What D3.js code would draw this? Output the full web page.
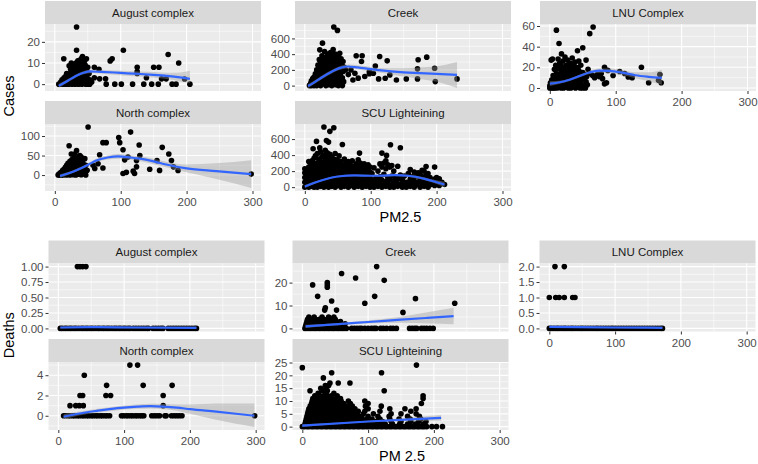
<!DOCTYPE html>
<html><head><meta charset="utf-8">
<script src="https://cdn.jsdelivr.net/npm/d3@7"></script>
<style>body{margin:0;background:#fff}svg{display:block}</style>
</head><body>
<svg id="c" width="758" height="464"></svg>
<script>
// ---------------- DATA ----------------
const xTickLabels = ['0','100','200','300'];

// Cases ~ PM2.5  (pairs [pm, cases])
const augustCases = [[6,0],[8,0],[9,1],[10,0],[11,2],[12,1],[13,0],[13.6,12],[14,3],[15,1],[16,2],[17,0],[17,4],[18,5],[19,1],[20,3],[21,0],[21.7,8.7],[22,2],[23,5],[24,1],[24,7],[25,10],[25,3],[26,0],[26,6],[27,2],[28,4],[28,8],[29,1],[30,9],[30,3],[31,6],[31,0],[32,2],[32,10],[33,27],[33,16],[33,5],[34,1],[34,8],[35,3],[35,11],[36,7],[36,0],[37,4],[37,11],[38,2],[38,9],[39,6],[39,1],[40,12],[40,4],[41,8],[41,0],[42,13],[42,3],[43,6],[43,10],[44,1],[44,5],[45,11],[45,7],[46,2],[46,9],[47,4],[47,0],[48,6],[48,12],[49,3],[50,8],[50,1],[51,0],[52,5],[53,2],[53,0],[56,1],[60,8],[67,7],[60,3],[68,2.5],[77,2.5],[78,0],[84,11],[87,12],[91,0],[101,0],[104,16],[118,0],[125,5],[125,6],[125,8],[135,0],[139,3],[147,0],[150,8],[157,0],[158,8],[162,2.5],[169,2.5],[172,14],[178,0],[184,0],[188,10],[197,2.4],[205,0]];
const augustCasesFit = [[6,-0.8,-1.8,0.2],[15,0.8,0,1.6],[25,2.6,1.9,3.3],[35,4.3,3.6,5],[45,5.5,4.8,6.3],[53,6,5.2,6.8],[70,5.8,4.9,6.7],[90,5.5,4.5,6.5],[110,5.1,4,6.2],[130,4.8,3.6,6],[150,4.4,3.1,5.7],[170,3.9,2.4,5.4],[190,3.2,1.3,5.5],[205,2.5,0.5,6.3]];

const creekCases = [[7,0],[8,10],[9,30],[10,0],[10,60],[11,20],[12,90],[12,5],[13,40],[14,110],[14,0],[15,70],[15,25],[16,150],[16,5],[17,100],[17,45],[18,200],[18,0],[19,130],[19,60],[20,260],[20,15],[21,180],[21,90],[22,330],[22,40],[22.7,455],[23,230],[23,120],[24,0],[24,300],[25,170],[25,70],[26,380],[26,20],[26.8,540],[27,250],[27,140],[28,100],[28,320],[29,30],[29,200],[30,434],[30,280],[31,60],[31,160],[32,360],[32,0],[33,230],[33,110],[34,300],[34,40],[35,190],[35,400],[36,80],[36,260],[37,10],[37,340],[38,150],[38,220],[39,50],[39,420],[40,290],[40,120],[41,0],[41,380],[42,180],[42,70],[43,460],[43,250],[44,745],[44,30],[44,330],[45,140],[45,200],[46,400],[46,90],[47,270],[47,10],[48,350],[48,170],[49,60],[49,230],[49.5,702],[50,310],[50,120],[51,0],[51,380],[52,200],[52,40],[53,412],[53,280],[54,150],[54,80],[55,20],[55,340],[56,250],[57,100],[57,0],[58,306],[58,243],[58,180],[59,50],[60,230],[61.6,200],[66,140],[70,200],[73,72],[76,157],[78,380],[81,95],[86,306],[87,380],[91,115],[98,150],[98,178],[104,157],[107,250],[112,85],[113.6,370],[122,94],[125,315],[129,136],[139,72],[154,85],[171,213],[171,85],[172,328],[185,362],[197,221],[198,51],[231,85]];
const creekCasesFit = [[5,-5,-30,20],[15,45,22,68],[25,100,78,122],[35,150,128,172],[45,195,172,218],[55,228,204,252],[66,243,218,268],[80,232,206,258],[100,210,182,238],[120,190,158,222],[150,168,115,221],[175,158,85,231],[200,148,50,246],[231,136,-30,300]];

const lnuCases = [[0,0],[0,2],[1,5],[2,0],[2,27],[3,1],[3,8],[4,28],[4,3],[5,0],[5,12],[6,2],[6,6],[7,0],[7,18],[8,4],[8,9],[9,1],[9,22],[10,56],[10,6],[10,14],[11,0],[11,3],[12,10],[12.6,28],[13,5],[13,19],[14,43],[14,1],[15,8],[15,24],[16,3],[16,13],[17,0],[17,17],[17.7,33],[18,6],[18,21],[19,2],[19,11],[20,26],[20,8],[21,0],[21,15],[22,4],[22,19],[23,10],[23,30],[24,1],[24,7],[25,13],[25,22],[26,3],[26,17],[27,9],[27,27],[28,0],[28,12],[29,5],[29,20],[30,15],[30,2],[31,24],[31,8],[32,11],[32,0],[33,18],[33,4],[34,29],[34,9],[35,14],[35,1],[36,22],[36,6],[37,12],[37,3],[38,17],[38,25],[39,7],[39,0],[40,10],[40,20],[41,4],[41,14],[42,36],[42,8],[43,18],[43,1],[44,12],[44,26],[45,5],[45,16],[46,9],[46,0],[47,13],[47,22],[48,3],[48,7],[49,11],[50,39],[50,15],[50,0],[51,2],[52,9],[53,13],[54,0],[55,6],[55,27],[56,11],[57,3],[58,18],[60.6,52.6],[62,14],[65,12],[65.7,59],[68,10],[72,13],[75,11],[78,14],[80,9],[83,20],[83,4],[86,5],[88,17],[96,12],[106,16],[113.6,14],[119,10.6],[125,10],[139,20],[150,5],[165,7.4],[167,13],[169,5]];
const lnuCasesFit = [[0,4.2,1.9,6.5],[15,5.5,4,7],[30,8,6.8,9.2],[45,11.5,10.2,12.8],[60,15,13.5,16.5],[75,16.8,14.8,18.8],[90,16.5,14.2,18.8],[110,14.8,12.2,17.4],[130,12.3,9.5,15.1],[150,10.8,6.5,15.1],[170,9.7,3.2,17.7]];

const northCases = [[5,0],[6,2],[7,0],[8,5],[9,1],[10,0],[10,8],[11,3],[12,12],[13,0],[13,6],[14,15],[15,2],[15,9],[16,20],[17,4],[17,11],[18,0],[18,25],[19,7],[19,16],[20,30],[20,2],[21,12],[21.7,75],[22,5],[22,20],[23,35],[23,0],[24,10],[24,26],[25,54],[25,3],[26,18],[26,40],[27,8],[27,30],[28,1],[28,22],[29,14],[29,45],[30,54],[30,5],[31,28],[31,11],[32,36],[32,0],[33,62.5],[33,18],[34,7],[34,42],[35,24],[35,2],[36,32],[36,13],[37,48],[37,4],[38,50],[38,20],[39,9],[39,35],[40,46],[40,1],[41,27],[41,15],[42,6],[42,38],[43,29],[43,11],[44,3],[44,22],[45.5,42],[45,16],[46,8],[47,25],[47,0],[48,12],[49,12.5],[50.5,123],[58,25],[60.6,17],[65.6,29],[68,52],[73,18],[73,83],[78,83],[97,96],[98.5,83],[103.5,65],[103.5,4],[106,39],[108.6,7],[111,46],[115,110],[119,10],[121,4],[124,37],[124,21],[128,77],[129,50],[144,15],[155,37],[159,12],[163,71],[173,54],[177,37],[180,21],[187,12],[298,2.5]];
const northCasesFit = [[8,-2.5,-7,2],[20,4,0,8],[33,12.5,9,16],[50,26,22,30],[63,37.5,33,42],[80,45,40,50],[96,48,42,54],[115,45,39,51],[129,42,36,48],[150,35,28,42],[169,27,20,34],[200,17,7,27],[245,10,-10,30],[298,2.5,-33,38]];

// SCU cases, grouped by PM2.5 value: [pm, [cases...]]
const scuCasesCols = [[0,[0,60,120,180,229]],[4,[20,90,150,210]],[6,[0,50,110,170,250,320]],[9,[30,80,140,200,270]],[11,[10,60,120,190,240,330]],[12.6,[480]],[14,[0,40,100,160,220,290,360]],[16,[20,80,140,200,260,390]],[17.7,[571]],[19,[0,50,110,170,230,300,420]],[21,[30,90,150,210,280,350]],[22.7,[490]],[24,[10,70,130,190,250,320,440]],[26,[40,100,160,220,290,380]],[29,[0,60,120,180,240,310,400,750]],[31,[20,80,140,200,270,340,460]],[32.8,[583]],[34,[50,110,170,230,300,370,430]],[36,[0,80,140,260,562]],[38,[30,90,150,210,280,350,410,696]],[41,[10,60,120,190,250,320,380]],[44,[40,100,160,220,290,350,742]],[46,[0,70,130,200,260,330,420]],[49,[20,80,140,210,270,340]],[52,[50,110,170,240,300,390]],[55,[0,60,120,180,250,320]],[57,[30,90,150,210,280,533]],[60,[10,70,130,200,260,350]],[63,[40,100,160,230,300]],[66,[0,60,120,190,250,320]],[69,[20,80,140,210,280]],[72,[50,110,170,240,330]],[75,[0,60,130,190,260]],[78,[30,90,150,220,290]],[81,[10,70,130,200,270,340]],[83,[425]],[84,[40,100,170,240,300]],[87,[0,60,120,190,260]],[90,[30,90,150,220,290]],[93,[10,70,130,200,250]],[96,[40,100,160,230,280]],[99,[0,60,120,190,250]],[102,[30,90,170]],[105,[0,60,240]],[108,[40,120]],[111,[10,80,200]],[114,[50,130,290]],[117,[0,90,250,425]],[120,[30,160,300]],[123,[10,70,230,330]],[124,[396]],[126,[40,120,280]],[129,[0,90,250]],[130,[529]],[132,[30,140,270]],[135,[0,80,200]],[138,[50,130]],[141,[10,100,260]],[145,[40,150,492]],[148,[0,90]],[151,[30,140]],[154,[0,60]],[157,[40,170]],[160,[10,100,220]],[163,[50,130]],[166,[0,80,190]],[169,[30,140]],[172,[60,180]],[175,[0,100,160]],[178,[40,130,210]],[181,[10,80,200]],[184,[50,150,258]],[187,[0,90,170]],[190,[30,120]],[193,[60]],[197,[20,100,250]],[200,[50,120]],[204,[20,104]],[208,[60]],[212,[33]]];
const scuCasesFit = [[0,8,-10,26],[25,83,72,94],[50,133,123,143],[76,146,137,155],[101,142,132,152],[120,145,134,156],[136,150,138,162],[157,142,128,156],[182,104,86,122],[200,62,38,86],[212,33,0,66]];

// Deaths ~ PM 2.5, grouped by death count: [deaths, [pm...]]
const augustDeathsRows = [[0,[3,6,10,13,17,20,24,27,31,35,38,42,45,49,52,56,60,63,67,70,74,77,81,85,88,92,95,99,102,106,109,114,118,122,126,130,134,137,144,148,152,156,159,167,171,175,179,183,187,191,195,199,203,207,210]],[1,[29,33,37,42]]];
const augustDeathsFit = [[3,0.015,0,0.03],[60,0.02,0.005,0.035],[120,0.015,0,0.03],[210,0.01,0,0.03]];

const creekDeathsRows = [[0,[4,7,11,14,18,21,25,28,32,35,39,42,46,49,53,56,60,63,67,75,79,83,87,90,95,100,105,109,112,119,123,128,134,138,143,163,167,171,174,181,185,189,194,199]],[1,[5,9,13,17,21,25,29,33,37,41,45,49,53,57,62]],[2,[6,10,14,18,22,26,31,34,38,42,46,50,54,65]],[3,[7,12,16,20,24,28,32,36,40,44,48,52,58]],[4,[8,14,20,26,32,38,44,50]],[5,[10,18,30,40,48]],[7,[153]],[8,[34,52]],[9,[35]],[11,[95,231.7]],[12,[44.6]],[13,[172]],[14,[23.3,110]],[18,[38]],[19,[15.7,38]],[20,[38]],[21,[124.5]],[22,[81]],[24,[59.7]],[27,[113]]];
const creekDeathsFit = [[5,0.9,0.2,1.6],[60,2.0,1.5,2.5],[100,2.8,2.1,3.5],[150,3.8,2.5,5.1],[190,4.6,2.1,7.1],[230,5.4,1.8,9]];

const lnuDeathsRows = [[0,[0,3,7,11,14,18,22,25,29,33,36,40,44,48,51,55,59,63,67,71,74,78,82,86,90,94,97,101,105,109,113,117,121,125,129,133,137,141,145,149,153,157,161,165,169,172]],[1,[0,9.7,15,22.8,35.5,39]],[2,[8.6,22.8]]];
const lnuDeathsFit = [[0,0.05,0.01,0.09],[40,0.04,0.01,0.07],[100,0.03,0,0.06],[172,0.02,0,0.06]];

const northDeathsRows = [[0,[8,11,15,18,22,25,29,32,36,39,43,46,50,53,57,60,64,67,71,74,78,96,99,103,106,110,113,117,120,124,127,130,142,146,150,154,162,164,172,176,180,184,188,298.5]],[1,[17.8,26.5,32,38,159.4]],[2,[33,37,72.4,79.5,159.4]],[3,[73.4,129,173]],[4,[39.5]],[5,[108.8,120.5]]];
const northDeathsFit = [[8,-0.1,-0.35,0.15],[30,0.2,0,0.4],[60,0.5,0.3,0.7],[90,0.75,0.55,0.95],[120,0.9,0.68,1.12],[140,0.95,0.72,1.18],[160,0.9,0.65,1.15],[180,0.8,0.5,1.1],[200,0.65,0.2,1.1],[240,0.4,-0.4,1.2],[270,0.2,-0.8,1.2],[298,0,-1.1,1.2]];

const scuDeathsRows = [[0,[0,3,7,10,14,17,21,24,28,31,35,38,42,45,49,52,56,59,63,66,70,73,77,80,84,87,91,94,98,101,105,108,112,115,119,122,126,129,133,136,140,143,147,150,154,157,161,164,168,171,175,178,182,185,189,197,204,213]],[1,[4,8,11,15,19,22,26,30,33,37,41,44,48,52,55,59,63,66,70,74,77,81,85,88,92,96,99,103,110,118,126,137,148,160,172,184]],[2,[5,9,13,16,20,24,27,31,35,38,42,46,49,53,57,60,64,68,71,75,79,82,86,90,93,97,104,112,122,135,150,165,177,188]],[3,[6,10,14,17,21,25,28,32,36,39,43,47,50,54,58,61,65,69,72,76,80,83,87,91,98,106,118,133,147,164,180]],[4,[7,11,15,18,22,26,29,33,37,40,44,48,51,55,59,62,66,70,73,77,81,84,90,100,115,132,160,178]],[5,[8,12,16,19,23,27,30,34,38,41,45,49,52,56,60,63,67,71,74,78,84,93,108,135,150,173]],[6,[9,13,17,20,24,28,31,35,39,42,46,50,53,57,61,64,68,72,77,85,95,118,165]],[7,[10,14,18,21,25,29,32,36,40,43,47,51,54,58,62,66,71,80,100,133,156,173]],[8,[12,16,20,23,27,31,34,38,42,45,49,53,57,62,68,76,96,120]],[9,[14,18,22,26,30,34,37,41,45,48,52,57,63,73,100,181]],[10,[15,19,23,27,31,35,39,43,47,52,59,70,95]],[11,[16,22,28,33,39,45,51,58,183.6]],[12,[19,26,32,38,44,53,183.6]],[13,[24,36,48]],[14,[11.7,30,38,124.5]],[15,[28,36]],[16,[35,40]],[17,[42,54.6,72.4]],[19,[32]],[21,[44.6,120.4]],[23,[0]],[24,[173.5]]];
const scuDeathsFit = [[0,0.4,-0.1,0.9],[100,2,1.7,2.3],[211,3.4,2.3,4.5]];

// tick labels
const augustCasesTicks = ['0','10','20'];
const creekCasesTicks = ['0','200','400','600'];
const lnuCasesTicks = ['0','20','40','60'];
const northCasesTicks = ['0','50','100'];
const scuCasesTicks = ['0','200','400','600'];
const augustDeathsTicks = ['0.00','0.25','0.50','0.75','1.00'];
const creekDeathsTicks = ['0','10','20'];
const lnuDeathsTicks = ['0.0','0.5','1.0','1.5','2.0'];
const northDeathsTicks = ['0','2','4'];
const scuDeathsTicks = ['0','5','10','15','20','25'];

// ---------------- DRAWING ----------------
const flatRows = rows => rows.flatMap(([y, xs]) => xs.map(x => [x, y]));
const flatCols = cols => cols.flatMap(([x, ys]) => ys.map(y => [x, y]));

const svg = d3.select('#c');
const defs = svg.append('defs');
const FONT = '"Liberation Sans", Arial, sans-serif';
let clipId = 0;

function drawChart(spec) {
  const L = spec.layout;
  const allX = spec.panels.flatMap(p => p.pts.map(d => d[0]));
  const [x0, x1] = d3.extent(allX);
  const xp = (x1 - x0) * 0.05;
  const xDom = [x0 - xp, x1 + xp];
  spec.panels.forEach(p => drawPanel(p, L, xDom));
  const cx = (L.cols[0] + L.cols[2] + L.w) / 2;
  svg.append('text').attr('x', cx).attr('y', L.xTitleY).attr('text-anchor', 'middle')
    .attr('font-family', FONT).attr('font-size', 14.5).attr('fill', '#000').text(spec.xTitle);
  const top = L.rows[0], bottom = L.rows[1] + L.stripH + L.panelH;
  svg.append('text').attr('transform', `translate(13.5,${(top + bottom) / 2}) rotate(-90)`)
    .attr('text-anchor', 'middle').attr('font-family', FONT).attr('font-size', 14.5).attr('fill', '#000').text(spec.yTitle);
}

function drawPanel(p, L, xDom) {
  const left = L.cols[p.col], right = left + L.w;
  const stripTop = L.rows[p.row], top = stripTop + L.stripH, bottom = top + L.panelH;
  const x = d3.scaleLinear().domain(xDom).range([left, right]);
  const yv = p.pts.map(d => d[1]).concat(p.fit.flatMap(d => [d[2], d[3]]));
  const [a, b] = d3.extent(yv);
  const yp = (b - a) * 0.05;
  const y = d3.scaleLinear().domain([a - yp, b + yp]).range([bottom, top]);
  const g = svg.append('g');

  g.append('rect').attr('x', left).attr('y', stripTop).attr('width', L.w).attr('height', L.stripH).attr('fill', '#D9D9D9');
  g.append('text').attr('x', (left + right) / 2).attr('y', stripTop + L.stripH / 2).attr('dy', '0.35em')
    .attr('text-anchor', 'middle').attr('font-family', FONT).attr('font-size', 11.5).attr('fill', '#1A1A1A').text(p.title);

  g.append('rect').attr('x', left).attr('y', top).attr('width', L.w).attr('height', L.panelH).attr('fill', '#EBEBEB');

  const yMaj = p.ticks.map(Number);
  const ys = yMaj[1] - yMaj[0];
  const yMin = [yMaj[0] - ys / 2].concat(yMaj.map(v => v + ys / 2)).filter(v => v > y.domain()[0] && v < y.domain()[1]);
  const xMaj = xTickLabels.map(Number);
  const xs = xMaj[1] - xMaj[0];
  const xMin = [xMaj[0] - xs / 2].concat(xMaj.map(v => v + xs / 2)).filter(v => v > xDom[0] && v < xDom[1]);
  const grid = g.append('g').attr('stroke', '#fff');
  grid.selectAll('.ymin').data(yMin).join('line').attr('x1', left).attr('x2', right)
    .attr('y1', d => y(d)).attr('y2', d => y(d)).attr('stroke-width', 0.55);
  grid.selectAll('.xmin').data(xMin).join('line').attr('y1', top).attr('y2', bottom)
    .attr('x1', d => x(d)).attr('x2', d => x(d)).attr('stroke-width', 0.55);
  grid.selectAll('.ymaj').data(yMaj).join('line').attr('x1', left).attr('x2', right)
    .attr('y1', d => y(d)).attr('y2', d => y(d)).attr('stroke-width', 1.1);
  grid.selectAll('.xmaj').data(xMaj).join('line').attr('y1', top).attr('y2', bottom)
    .attr('x1', d => x(d)).attr('x2', d => x(d)).attr('stroke-width', 1.1);

  const id = 'clip' + (clipId++);
  defs.append('clipPath').attr('id', id).append('rect').attr('x', left).attr('y', top).attr('width', L.w).attr('height', L.panelH);
  const mg = g.append('g').attr('clip-path', `url(#${id})`);
  mg.selectAll('circle').data(p.pts).join('circle')
    .attr('cx', d => x(d[0])).attr('cy', d => y(d[1])).attr('r', 2.8).attr('fill', '#000');
  mg.append('path').datum(p.fit)
    .attr('d', d3.area().x(d => x(d[0])).y0(d => y(d[2])).y1(d => y(d[3])).curve(d3.curveMonotoneX))
    .attr('fill', '#999999').attr('fill-opacity', 0.4);
  mg.append('path').datum(p.fit)
    .attr('d', d3.line().x(d => x(d[0])).y(d => y(d[1])).curve(d3.curveMonotoneX))
    .attr('fill', 'none').attr('stroke', '#3366FF').attr('stroke-width', 2.2);

  const ya = g.append('g').attr('transform', `translate(${left},0)`)
    .call(d3.axisLeft(y).tickValues(yMaj).tickFormat((d, i) => p.ticks[i]).tickSize(3).tickPadding(2));
  styleAxis(ya);
  if (p.xAxis) {
    const xa = g.append('g').attr('transform', `translate(0,${bottom})`)
      .call(d3.axisBottom(x).tickValues(xMaj).tickFormat((d, i) => xTickLabels[i]).tickSize(3).tickPadding(4));
    styleAxis(xa);
  }
}

function styleAxis(sel) {
  sel.select('.domain').remove();
  sel.selectAll('.tick line').attr('stroke', '#333333').attr('stroke-width', 1);
  sel.selectAll('.tick text').attr('fill', '#4D4D4D').attr('font-size', 11.5).attr('font-family', FONT);
}

drawChart({
  xTitle: 'PM2.5', yTitle: 'Cases',
  layout: { cols: [45, 295, 540], w: 216, rows: [1, 101], stripH: 23, panelH: 67, xTitleY: 222 },
  panels: [
    { title: 'August complex', col: 0, row: 0, pts: augustCases, fit: augustCasesFit, ticks: augustCasesTicks, xAxis: false },
    { title: 'Creek', col: 1, row: 0, pts: creekCases, fit: creekCasesFit, ticks: creekCasesTicks, xAxis: false },
    { title: 'LNU Complex', col: 2, row: 0, pts: lnuCases, fit: lnuCasesFit, ticks: lnuCasesTicks, xAxis: true },
    { title: 'North complex', col: 0, row: 1, pts: northCases, fit: northCasesFit, ticks: northCasesTicks, xAxis: true },
    { title: 'SCU Lighteining', col: 1, row: 1, pts: flatCols(scuCasesCols), fit: scuCasesFit, ticks: scuCasesTicks, xAxis: true }
  ]
});

drawChart({
  xTitle: 'PM 2.5', yTitle: 'Deaths',
  layout: { cols: [48.5, 292.5, 539.5], w: 216, rows: [240.5, 339], stripH: 23, panelH: 68, xTitleY: 461 },
  panels: [
    { title: 'August complex', col: 0, row: 0, pts: flatRows(augustDeathsRows), fit: augustDeathsFit, ticks: augustDeathsTicks, xAxis: false },
    { title: 'Creek', col: 1, row: 0, pts: flatRows(creekDeathsRows), fit: creekDeathsFit, ticks: creekDeathsTicks, xAxis: false },
    { title: 'LNU Complex', col: 2, row: 0, pts: flatRows(lnuDeathsRows), fit: lnuDeathsFit, ticks: lnuDeathsTicks, xAxis: true },
    { title: 'North complex', col: 0, row: 1, pts: flatRows(northDeathsRows), fit: northDeathsFit, ticks: northDeathsTicks, xAxis: true },
    { title: 'SCU Lighteining', col: 1, row: 1, pts: flatRows(scuDeathsRows), fit: scuDeathsFit, ticks: scuDeathsTicks, xAxis: true }
  ]
});
</script>
</body></html>
